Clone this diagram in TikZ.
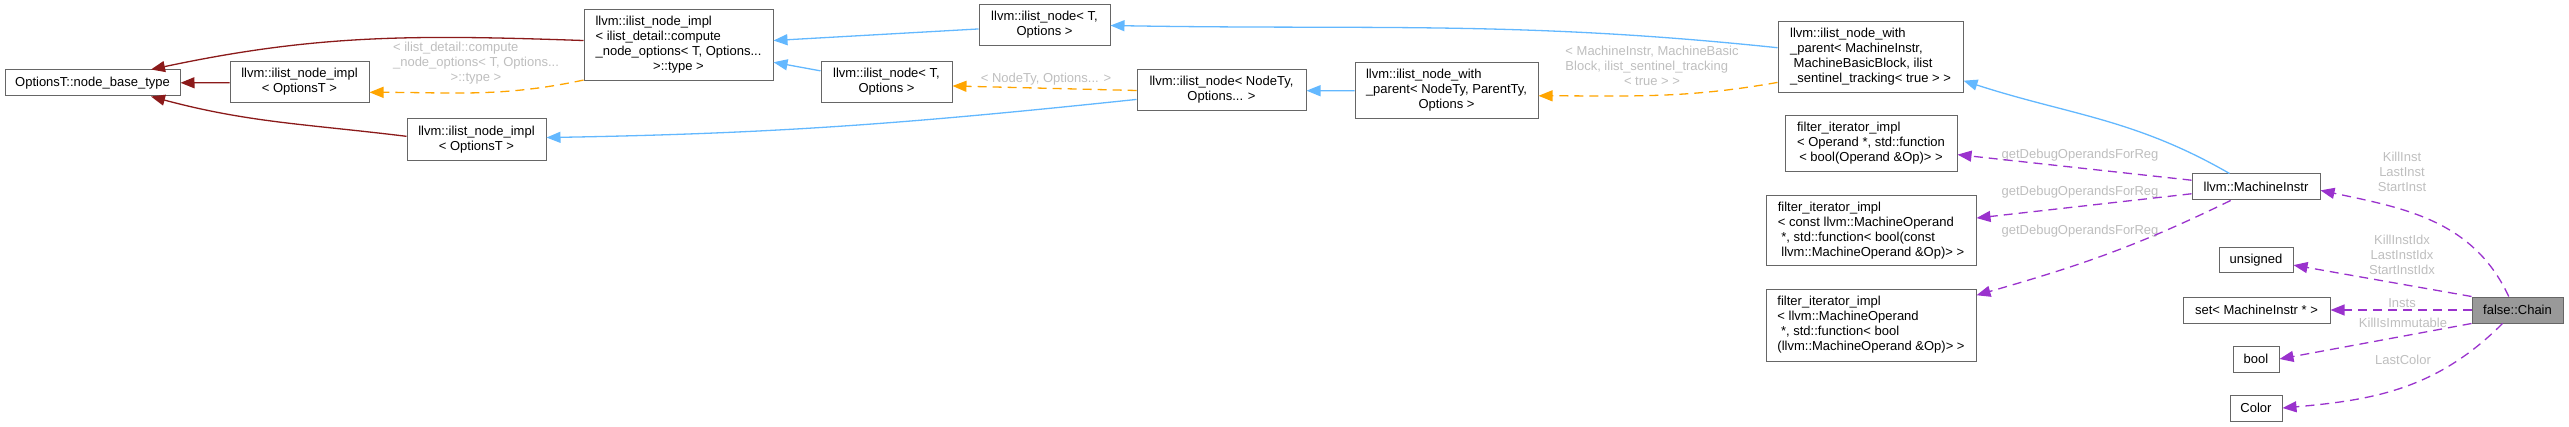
\documentclass[tikz,border=0pt]{standalone}
\usepackage{fontspec}
\setmainfont{Liberation Sans}
\usetikzlibrary{arrows.meta,calc}
\definecolor{boxgray}{HTML}{666666}
\definecolor{chaingray}{HTML}{999999}
\definecolor{inhblue}{HTML}{63B8FF}
\definecolor{tmplorange}{HTML}{FFA500}
\definecolor{usepurple}{HTML}{9A32CD}
\definecolor{privred}{HTML}{8B1A1A}
\definecolor{labelgray}{HTML}{BEBEBE}
\newcommand{\dfont}{\fontsize{6.5}{7.5}\selectfont}
\newcommand{\boxlines}[1]{\begin{tabular}{@{}l@{}}#1\end{tabular}}
\newcommand{\lastline}[1]{\multicolumn{1}{@{}c@{}}{#1}}

\begin{document}
\begin{tikzpicture}[x=0.5pt, y=-0.5pt,
    cls/.style={rectangle, draw=boxgray, fill=white, line width=0.5pt, inner sep=0pt, font=\dfont},
    sz/.style 2 args={minimum width=#1*0.5pt, minimum height=#2*0.5pt},
    current/.style={cls, fill=chaingray},
    elabel/.style={font=\dfont, text=labelgray, inner sep=0pt, align=center},
    conn/.style={line width=0.65pt, -{Triangle[length=7pt, width=5.5pt]}},
    inh/.style={conn, draw=inhblue},
    priv/.style={conn, draw=privred},
    tmpl/.style={conn, draw=tmplorange, dash pattern=on 4.5pt off 3pt},
    usage/.style={conn, draw=usepurple, dash pattern=on 4.5pt off 3pt}
]
    \useasboundingbox (0,0) rectangle (2569,427);
    % base classes
    \node[cls, sz={175}{26}] (base) at (92.5,83) {OptionsT::node\_base\_type};
    \node[cls, sz={139}{41}] (implA) at (299.5,82.5) {\boxlines{llvm::ilist\_node\_impl\\ \lastline{< OptionsT >}}};
    \node[cls, sz={189}{71}] (implC) at (678.5,45.5) {\boxlines{llvm::ilist\_node\_impl\\ < ilist\_detail::compute\\ \_node\_options< T, Options...\\ \lastline{>::type >}}};
    \node[cls, sz={139}{42}] (implB) at (476.5,140) {\boxlines{llvm::ilist\_node\_impl\\ \lastline{< OptionsT >}}};
    \node[cls, sz={131}{41}] (nodeA) at (1044.5,25.5) {\boxlines{llvm::ilist\_node< T,\\ \lastline{Options >}}};
    \node[cls, sz={131}{41}] (nodeB) at (886.5,82.5) {\boxlines{llvm::ilist\_node< T,\\ \lastline{Options >}}};
    \node[cls, sz={169}{41}] (nodeTy) at (1221.5,90.5) {\boxlines{llvm::ilist\_node< NodeTy,\\ \lastline{Options... >}}};
    \node[cls, sz={183}{56}] (wpNode) at (1446.5,91) {\boxlines{llvm::ilist\_node\_with\\ \_parent< NodeTy, ParentTy,\\ \lastline{Options >}}};
    \node[cls, sz={185}{71}] (wpMI) at (1870.5,57.5) {\boxlines{llvm::ilist\_node\_with\\ \_parent< MachineInstr,\\ ~MachineBasicBlock, ilist\\ \lastline{\_sentinel\_tracking< true > >}}};
    % member types
    \node[cls, sz={172}{56}] (filtA) at (1871,144) {\boxlines{filter\_iterator\_impl\\ < Operand *, std::function\\ \lastline{< bool(Operand \&Op)> >}}};
    \node[cls, sz={210}{70}] (filtB) at (1871,231) {\boxlines{filter\_iterator\_impl\\ < const llvm::MachineOperand\\ ~*, std::function< bool(const\\ \lastline{~llvm::MachineOperand \&Op)> >}}};
    \node[cls, sz={210}{71}] (filtC) at (1871,325.5) {\boxlines{filter\_iterator\_impl\\ < llvm::MachineOperand\\ ~*, std::function< bool\\ \lastline{(llvm::MachineOperand \&Op)> >}}};
    \node[cls, sz={128}{26}] (mi) at (2256,187) {llvm::MachineInstr};
    \node[cls, sz={74}{25}] (uns) at (2256,260.5) {unsigned};
    \node[cls, sz={147}{26}] (setmi) at (2256.5,310) {set< MachineInstr * >};
    \node[cls, sz={46}{26}] (bool) at (2256,359) {bool};
    \node[cls, sz={52}{26}] (color) at (2256,408) {Color};
    \node[current, sz={91}{26}] (chain) at (2517.5,310) {false::Chain};
    % edge labels
    \node[elabel] (lblC) at (476,64) {\boxlines{< ilist\_detail::compute\\ \_node\_options< T, Options...\\ \lastline{>::type >}}};
    \node[elabel] (lblNT) at (1046,79) {< NodeTy, Options... >};
    \node[elabel] (lblMI) at (1652,68) {\boxlines{< MachineInstr, MachineBasic\\ Block, ilist\_sentinel\_tracking\\ \lastline{< true > >}}};
    \node[elabel] (lblDA) at (2080,155) {getDebugOperandsForReg};
    \node[elabel] (lblDB) at (2080,192) {getDebugOperandsForReg};
    \node[elabel] (lblDC) at (2080,231) {getDebugOperandsForReg};
    \node[elabel] (lblInst) at (2402,172) {KillInst\\LastInst\\StartInst};
    \node[elabel] (lblIdx) at (2402,255) {KillInstIdx\\LastInstIdx\\StartInstIdx};
    \node[elabel] (lblInsts) at (2402,303) {Insts};
    \node[elabel] (lblKill) at (2403,323) {KillIsImmutable};
    \node[elabel] (lblColor) at (2403,360) {LastColor};
    % connectors
    \draw[priv] (implC.177) to[out=178,in=12] (base.13);
    \draw[priv] (implA) -- (base);
    \draw[priv] (implB.177) to[out=173,in=-15] (base.-13);
    \draw[tmpl] (implC.200) to[out=192,in=0] (implA.-8);
    \draw[inh] (nodeA.183) -- (implC.3);
    \draw[inh] (nodeB.170) -- (implC.-10);
    \draw[tmpl] (nodeTy.west) -- (nodeB.-3);
    \draw[inh] (nodeTy.186) to[out=186,in=1] (implB.2);
    \draw[inh] (wpNode) -- (nodeTy);
    \draw[tmpl] (wpMI.195) to[out=190,in=0] (wpNode.-3);
    \draw[inh] (wpMI.174) to[out=174,in=-1] (nodeA.east);
    \draw[inh] (mi.153) to[out=150,in=-18] (wpMI.-14);
    \draw[usage] (mi.174) -- (filtA.-7);
    \draw[usage] (mi.186) -- (filtB.7);
    \draw[usage] (mi.208) to[out=206,in=16] (filtC.16);
    \draw[usage] (chain.123) to[out=115,in=-12] (mi.-3);
    \draw[usage] (chain.north west) -- (uns.-7);
    \draw[usage] (chain) -- (setmi);
    \draw[usage] (chain.south west) -- (bool.east);
    \draw[usage] (chain.222) to[out=225,in=5] (color.east);
\end{tikzpicture}
\end{document}
